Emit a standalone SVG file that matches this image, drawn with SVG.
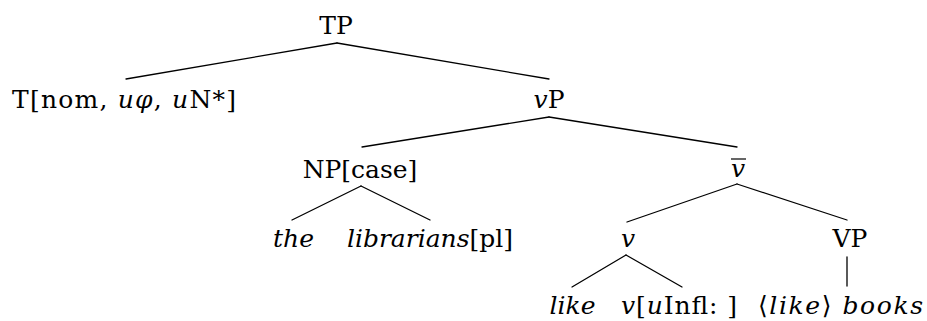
<svg xmlns="http://www.w3.org/2000/svg" width="927" height="321" viewBox="0 0 927 321">
<style>
text{font-family:'DejaVu Serif',serif;font-size:25px;fill:#000;text-anchor:middle}
.i{font-style:italic}
.e{stroke:#000;stroke-width:1.3;fill:none;stroke-linecap:round}
</style>
<rect width="927" height="321" fill="#fff"/>
<g id="connectors" class="e">
<line x1="337" y1="43" x2="126" y2="79"/>
<line x1="337" y1="43" x2="549" y2="79"/>
<line x1="549" y1="117" x2="362" y2="147"/>
<line x1="549" y1="117" x2="737" y2="147"/>
<line x1="361" y1="186" x2="292" y2="220"/>
<line x1="361" y1="186" x2="430" y2="220"/>
<line x1="737" y1="184" x2="627" y2="222"/>
<line x1="737" y1="184" x2="847" y2="220"/>
<line x1="626" y1="255" x2="572" y2="287"/>
<line x1="626" y1="255" x2="682" y2="287"/>
<line x1="847" y1="257" x2="847" y2="286"/>
</g>
<g id="TP"><text x="336" y="34">TP</text></g>
<g id="T"><text x="124" y="108" textLength="224" lengthAdjust="spacing">T[nom, <tspan class="i">uφ</tspan>, <tspan class="i">u</tspan>N*]</text></g>
<g id="vP"><text x="549" y="108"><tspan class="i">v</tspan>P</text></g>
<g id="NP"><text x="360" y="178">NP[case]</text></g>
<g id="vbar"><text x="738" y="177" class="i">v</text><line x1="731" y1="159" x2="746" y2="159" stroke="#000" stroke-width="1.2"/></g>
<g id="the"><text x="293.5" y="247" class="i">the</text></g>
<g id="librarians"><text x="430" y="247"><tspan class="i">librarians</tspan>[pl]</text></g>
<g id="v"><text x="628" y="247" class="i">v</text></g>
<g id="VP"><text x="850" y="247">VP</text></g>
<g id="like"><text x="572.5" y="314" class="i">like</text></g>
<g id="vInfl"><text x="679" y="314" textLength="116" lengthAdjust="spacing"><tspan class="i">v</tspan>[<tspan class="i">u</tspan>Infl: ]</text></g>
<g id="books"><text x="840.5" y="314" textLength="165" lengthAdjust="spacing">⟨<tspan class="i">like</tspan>⟩ <tspan class="i">books</tspan></text></g>
</svg>
